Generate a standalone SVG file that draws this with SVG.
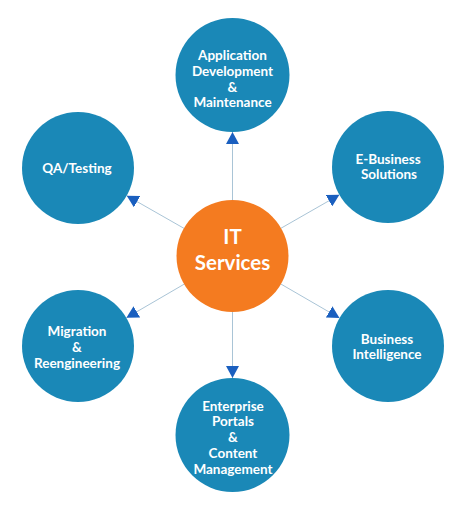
<svg xmlns="http://www.w3.org/2000/svg" width="465" height="512" viewBox="0 0 465 512">
  <defs>
    <marker id="arrow" markerUnits="userSpaceOnUse" markerWidth="13" markerHeight="13" refX="12" refY="6.5" orient="auto">
      <path d="M0,0 L12,6.5 L0,13 z" fill="#1a5fbf"/>
    </marker>
    <style>
      .node { fill: #1a88b7; }
      .hub { fill: #f47b20; }
      .lbl { font-family: Lato, "Open Sans", "Liberation Sans", sans-serif; font-weight: 700; font-size: 13.5px; fill: #ffffff; text-anchor: middle; }
      .hubl { font-family: Lato, "Open Sans", "Liberation Sans", sans-serif; font-weight: 700; font-size: 20.5px; fill: #ffffff; text-anchor: middle; }
      .conn { stroke: #a9c4d6; stroke-width: 1; fill: none; marker-end: url(#arrow); }
    </style>
  </defs>
  <rect width="465" height="512" fill="#ffffff"/>
  <g id="connectors">
    <line class="conn" x1="232.5" y1="256" x2="232.5" y2="132"/>
    <line class="conn" x1="232.5" y1="256" x2="232.5" y2="378"/>
    <line class="conn" x1="232.5" y1="256" x2="126.7" y2="195.7"/>
    <line class="conn" x1="232.5" y1="256" x2="339.4" y2="194.8"/>
    <line class="conn" x1="232.5" y1="256" x2="126.4" y2="317.8"/>
    <line class="conn" x1="232.5" y1="256" x2="339.5" y2="318"/>
  </g>
  <g id="it-services">
    <circle class="hub" cx="232.5" cy="256" r="56"/>
    <text class="hubl" x="232.5" y="244">IT</text>
    <text class="hubl" x="232.5" y="270">Services</text>
  </g>
  <g id="app-dev">
    <circle class="node" cx="232.5" cy="75" r="57"/>
    <text class="lbl" x="232.5" y="60">Application</text>
    <text class="lbl" x="232.5" y="76">Development</text>
    <text class="lbl" x="232.5" y="92">&amp;</text>
    <text class="lbl" x="232.5" y="107">Maintenance</text>
  </g>
  <g id="qa-testing">
    <circle class="node" cx="78" cy="168" r="56"/>
    <text class="lbl" x="77" y="173">QA/Testing</text>
  </g>
  <g id="e-business">
    <circle class="node" cx="388" cy="167" r="56"/>
    <text class="lbl" x="388" y="164">E-Business</text>
    <text class="lbl" x="389" y="179">Solutions</text>
  </g>
  <g id="migration">
    <circle class="node" cx="78" cy="346" r="56"/>
    <text class="lbl" x="77" y="336">Migration</text>
    <text class="lbl" x="77" y="352">&amp;</text>
    <text class="lbl" x="77" y="368">Reengineering</text>
  </g>
  <g id="business-intelligence">
    <circle class="node" cx="388" cy="346" r="56"/>
    <text class="lbl" x="387" y="344">Business</text>
    <text class="lbl" x="387" y="359">Intelligence</text>
  </g>
  <g id="enterprise-portals">
    <circle class="node" cx="232.5" cy="435" r="57"/>
    <text class="lbl" x="233" y="411">Enterprise</text>
    <text class="lbl" x="233" y="426">Portals</text>
    <text class="lbl" x="233" y="442">&amp;</text>
    <text class="lbl" x="233" y="458">Content</text>
    <text class="lbl" x="233" y="474">Management</text>
  </g>
</svg>
